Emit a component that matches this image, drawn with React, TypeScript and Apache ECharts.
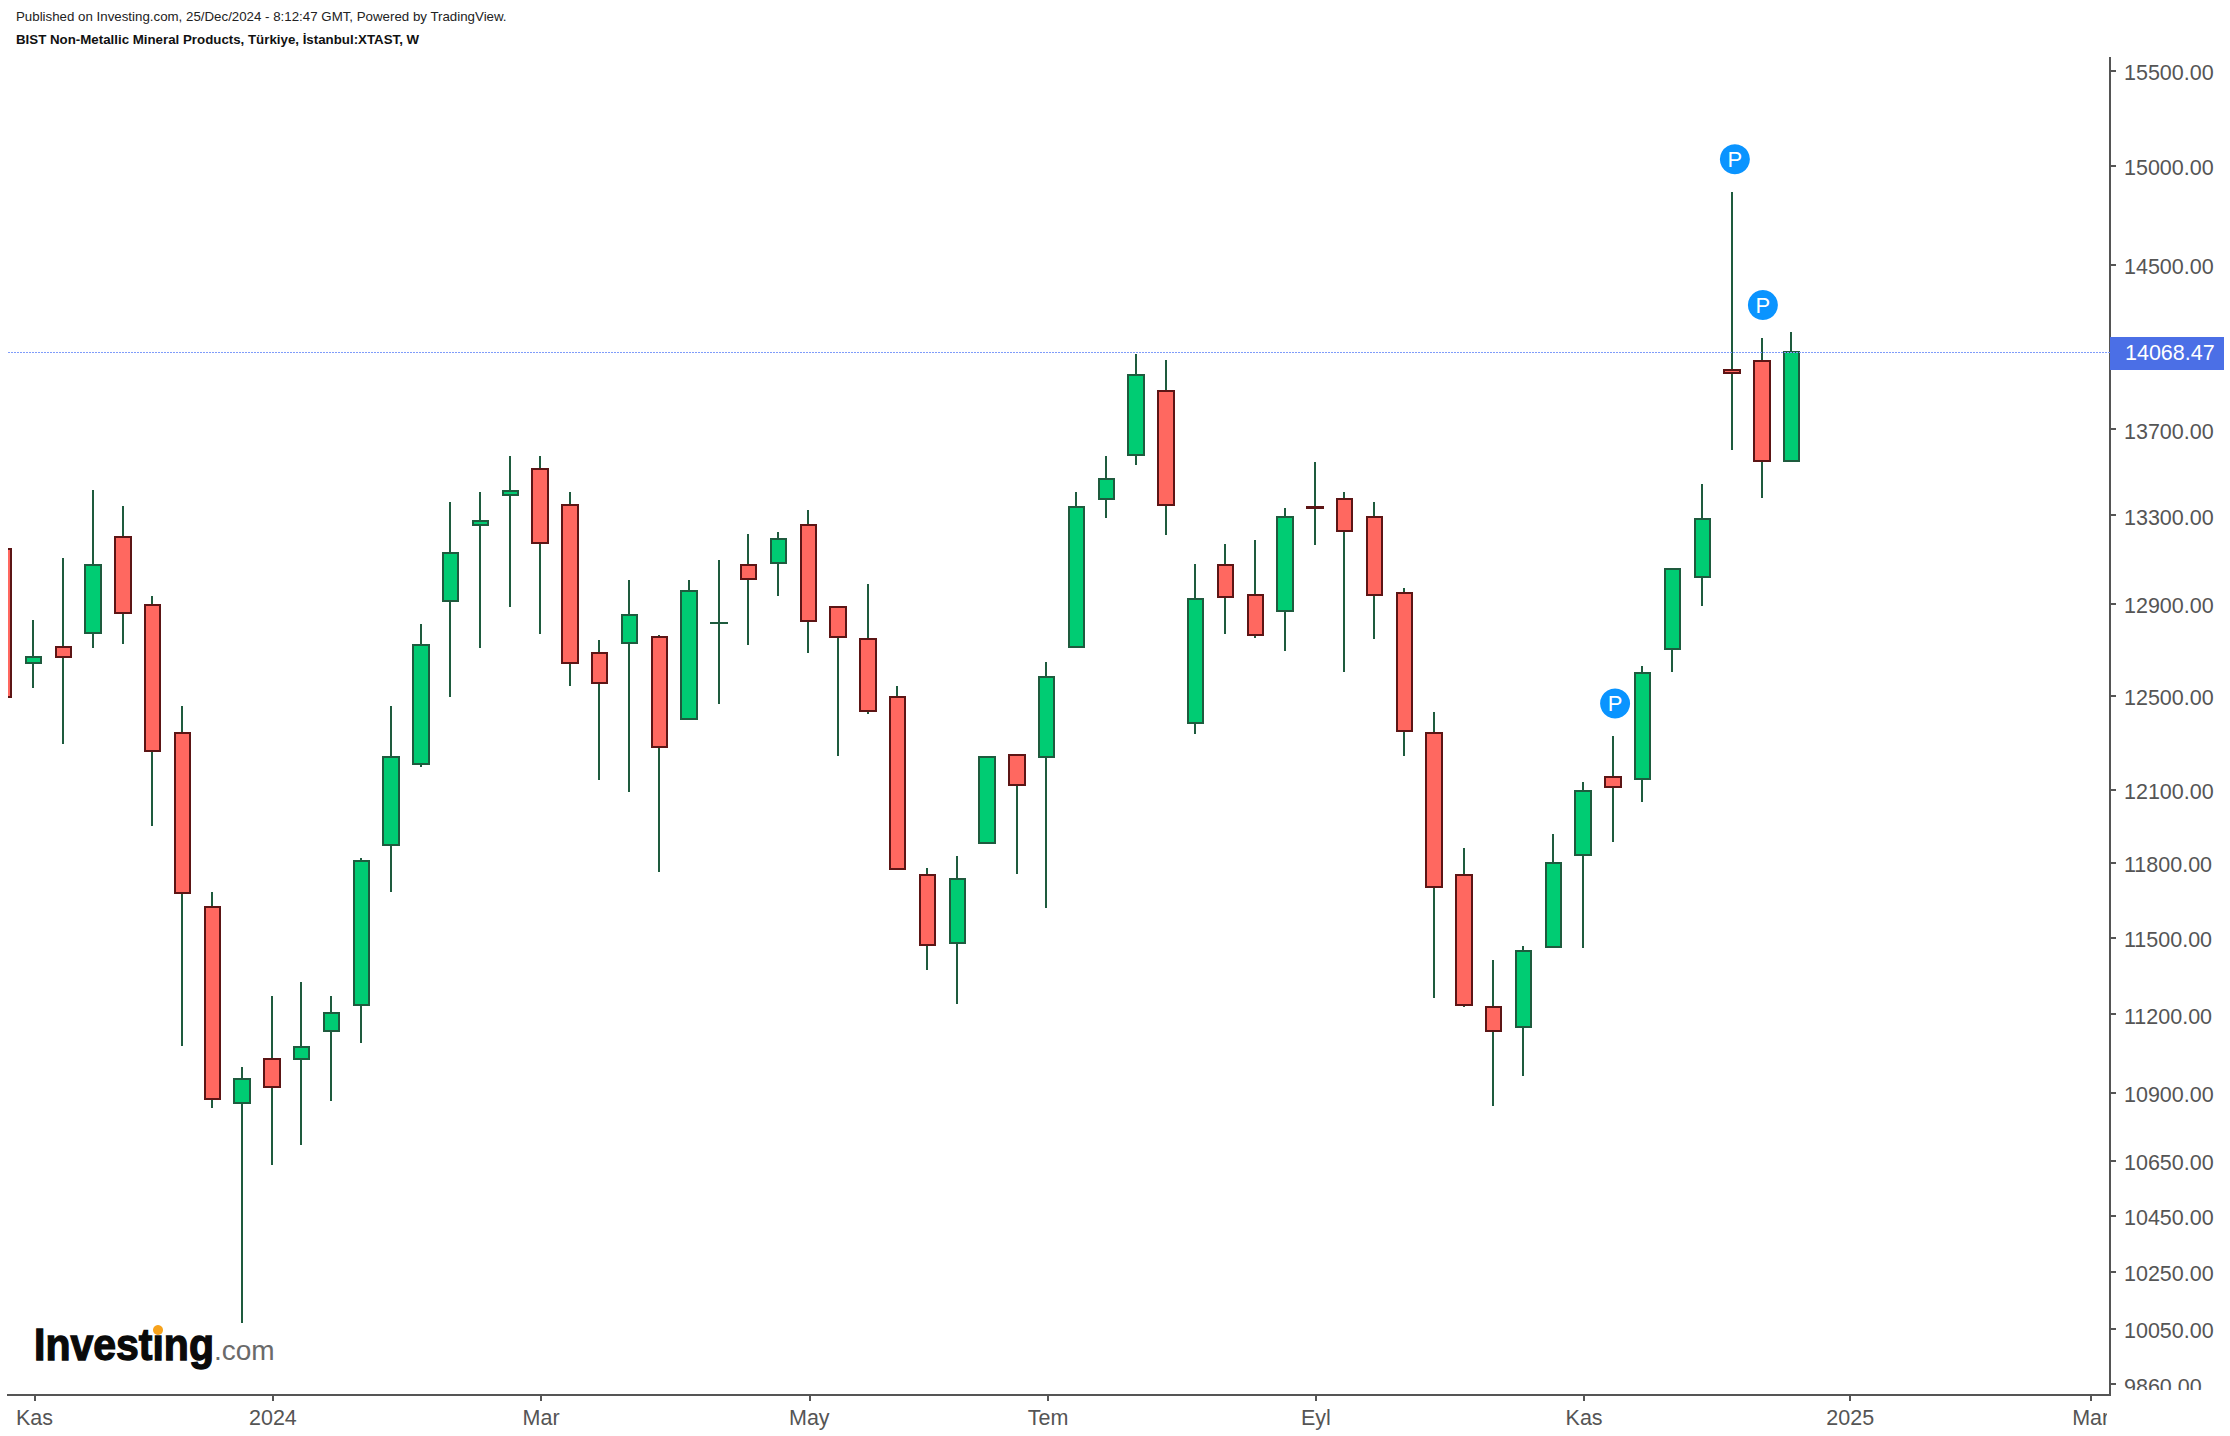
import React, { useEffect, useRef } from "react";
import * as echarts from "echarts";

const FONT = '"Liberation Sans", Arial, Helvetica, sans-serif';

const publishedLine = "Published on Investing.com, 25/Dec/2024 - 8:12:47 GMT, Powered by TradingView.";
const symbolLine = "BIST Non-Metallic Mineral Products, Türkiye, İstanbul:XTAST, W";

// week index: -1 is the partly hidden first bar
const weeks = [-1, 0, 1, 2, 3, 4, 5, 6, 7, 8, 9, 10, 11, 12, 13, 14, 15, 16, 17, 18, 19, 20, 21, 22, 23, 24, 25, 26, 27, 28, 29, 30, 31, 32, 33, 34, 35, 36, 37, 38, 39, 40, 41, 42, 43, 44, 45, 46, 47, 48, 49, 50, 51, 52, 53, 54, 55, 56, 57, 58, 59];
const opens = [13147, 12640, 12710, 12771, 13201, 12894, 12339, 11619, 10861, 11028, 11028, 11135, 11234, 11872, 12206, 12912, 13256, 13392, 13514, 13348, 12685, 12728, 12754, 12398, 12814, 13075, 13084, 13256, 12885, 12745, 12491, 11749, 11478, 11880, 12246, 12237, 12710, 13374, 13580, 13881, 12381, 13075, 12939, 12868, 13339, 13374, 13292, 12949, 12339, 11749, 11226, 11150, 11462, 11831, 12153, 12145, 12701, 13020, 13980, 14026, 13552];
const closes = [12491, 12666, 12666, 13075, 12859, 12263, 11676, 10876, 10952, 10922, 11074, 11203, 11806, 12235, 12719, 13129, 13274, 13411, 13174, 12641, 12552, 12850, 12280, 12957, 12816, 13011, 13192, 12824, 12754, 12432, 11774, 11470, 11733, 12237, 12119, 12579, 13337, 13467, 13958, 13346, 12920, 12930, 12763, 13292, 13335, 13229, 12939, 12347, 11700, 11234, 11135, 11446, 11798, 12094, 12111, 12596, 13056, 13283, 13969, 13552, 14068.47];
const lows = [12491, 12531, 12292, 12706, 12723, 11951, 11079, 10843, 10069, 10633, 10706, 10868, 11089, 11680, 12193, 12491, 12706, 12885, 12767, 12541, 12140, 12091, 11763, 12398, 12461, 12717, 12934, 12682, 12243, 12421, 11770, 11372, 11239, 11880, 11755, 11617, 12710, 13289, 13533, 13208, 12335, 12767, 12750, 12690, 13165, 12601, 12743, 12243, 11262, 11226, 10851, 10964, 11460, 11459, 11885, 12049, 12602, 12891, 13604, 13380, 13550];
const highs = [13147, 12828, 13106, 13416, 13342, 12934, 12453, 11680, 10998, 11269, 11324, 11269, 11819, 12453, 12811, 13360, 13406, 13575, 13575, 13406, 12741, 13007, 12760, 13007, 13097, 13215, 13224, 13324, 12890, 12988, 12539, 11778, 11827, 12237, 12246, 12644, 13406, 13575, 14060, 14031, 13079, 13170, 13188, 13333, 13547, 13406, 13360, 12970, 12427, 11860, 11411, 11466, 11917, 12132, 12326, 12627, 13060, 13442, 14865, 14138, 14167];

const priceTicks = [9860, 10050, 10250, 10450, 10650, 10900, 11200, 11500, 11800, 12100, 12500, 12900, 13300, 13700, 14500, 15000, 15500];
const timeTickLabels = ["Kas", "2024", "Mar", "May", "Tem", "Eyl", "Kas", "2025", "Mar"];
const timeTickWeeks = [0.05, 8.05, 17.05, 26.05, 34.06, 43.05, 52.05, 60.98, 69.05];

const lastPrice = 14068.47;
const pinWeeks = [57.11, 58.05, 53.09];
const pinPrices = [15035, 14298, 12465];

const UP = "#00cc73";
const DOWN = "#ff6860";
const UP_EDGE = "#1e5b3e";
const DOWN_EDGE = "#5c1515";
const AXIS = "#555555";

export default function App() {
  const ref = useRef<HTMLDivElement>(null);
  useEffect(() => {
    document.body.style.margin = "0";
    const chart = echarts.init(ref.current!, null, { renderer: "svg" });
    const wickData = weeks.map((w, i) => [w, opens[i], closes[i], lows[i], highs[i]]);
    const bodyData = weeks.map((w, i) => [
      w,
      opens[i],
      closes[i],
      Math.min(opens[i], closes[i]),
      Math.max(opens[i], closes[i]),
    ]);
    chart.setOption({
      animation: false,
      backgroundColor: "#ffffff",
      textStyle: { fontFamily: FONT },
      grid: { left: 8, right: 120, top: 58, bottom: 41, containLabel: false },
      xAxis: {
        type: "value",
        min: -0.839,
        max: 69.698,
        splitLine: { show: false },
        axisLine: { show: true, onZero: false, lineStyle: { color: AXIS, width: 2 } },
        axisTick: { show: true, length: 6, customValues: timeTickWeeks, lineStyle: { color: AXIS, width: 2 } },
        axisLabel: {
          show: true,
          margin: 12,
          fontSize: 21.5,
          color: AXIS,
          fontFamily: FONT,
          customValues: timeTickWeeks,
          formatter: (v: number) => timeTickLabels[timeTickWeeks.indexOf(v)] ?? "",
        },
      },
      yAxis: {
        type: "log",
        position: "right",
        min: 9823,
        max: 15568,
        splitLine: { show: false },
        axisLine: { show: true, onZero: false, lineStyle: { color: AXIS, width: 2 } },
        axisTick: { show: true, length: 6, customValues: priceTicks, lineStyle: { color: AXIS, width: 2 } },
        axisLabel: {
          show: true,
          margin: 14,
          fontSize: 21.5,
          color: AXIS,
          fontFamily: FONT,
          verticalAlign: "top",
          padding: [-8.5, 0, 0, 0],
          customValues: priceTicks,
          formatter: (v: number) => Number(v).toFixed(2),
        },
      },
      series: [
        {
          name: "wicks",
          type: "candlestick",
          barWidth: 1,
          z: 2,
          data: wickData,
          encode: { x: 0, y: [1, 2, 3, 4] },
          itemStyle: {
            color: UP_EDGE,
            color0: UP_EDGE,
            borderColor: UP_EDGE,
            borderColor0: UP_EDGE,
            borderWidth: 2,
          },
          markLine: {
            silent: true,
            symbol: "none",
            animation: false,
            lineStyle: { color: "#7f9cfa", type: [2, 1], width: 1 },
            label: {
              show: true,
              position: "end",
              distance: 0,
              offset: [0, 1],
              formatter: () => lastPrice.toFixed(2),
              backgroundColor: "#4b6fe6",
              color: "#ffffff",
              fontSize: 21.5,
              fontFamily: FONT,
              padding: [6, 9, 5, 15],
            },
            data: [{ yAxis: lastPrice }],
          },
        },
        {
          name: "bodies",
          type: "candlestick",
          barWidth: 16,
          z: 3,
          data: bodyData,
          encode: { x: 0, y: [1, 2, 3, 4] },
          itemStyle: {
            color: UP,
            color0: DOWN,
            borderColor: UP_EDGE,
            borderColor0: DOWN_EDGE,
            borderWidth: 2,
          },
          markPoint: {
            silent: true,
            symbol: "circle",
            symbolSize: 30,
            itemStyle: { color: "#0a94ff" },
            label: { show: true, position: "inside", color: "#ffffff", fontSize: 22, fontFamily: FONT, formatter: "P" },
            data: pinWeeks.map((w, i) => ({ coord: [w, pinPrices[i]] })),
          },
        },
      ],
      graphic: [
        { type: "rect", z: 100, shape: { x: 0, y: 40, width: 8, height: 1000 }, style: { fill: "#ffffff" } },
        { type: "rect", z: 100, shape: { x: 2113, y: 1390, width: 117, height: 46 }, style: { fill: "#ffffff" } },
        { type: "rect", z: 100, shape: { x: 2107, y: 1398, width: 10, height: 38 }, style: { fill: "#ffffff" } },
        { type: "text", z: 101, x: 16, y: 10, style: { text: publishedLine, font: `13.3px ${FONT}`, fill: "#222222" } },
        { type: "text", z: 101, x: 16, y: 33, style: { text: symbolLine, font: `bold 13.3px ${FONT}`, fill: "#111111" } },
        { type: "text", z: 101, x: 34, y: 1322, scaleY: 1.09, style: { text: "Investing", font: `bold 41px ${FONT}`, fill: "#0a0a0a", stroke: "#0a0a0a", lineWidth: 1.2 } },
        { type: "text", z: 101, x: 214, y: 1336, style: { text: ".com", font: `28px ${FONT}`, fill: "#6a6a6a" } },
        { type: "circle", z: 102, shape: { cx: 158, cy: 1330, r: 5 }, style: { fill: "#f7a21b" } },
      ],
    });
    // Sharp 2px candle edges, as in the reference; round shapes stay smooth.
    const svg = chart.getDom().querySelector("svg");
    if (svg) {
      svg.querySelectorAll("path").forEach((p) => {
        const d = p.getAttribute("d") || "";
        if (!/[AaCc]/.test(d)) p.style.shapeRendering = "crispEdges";
      });
    }
    return () => chart.dispose();
  }, []);
  return <div ref={ref} style={{ width: 2230, height: 1436 }} />;
}
